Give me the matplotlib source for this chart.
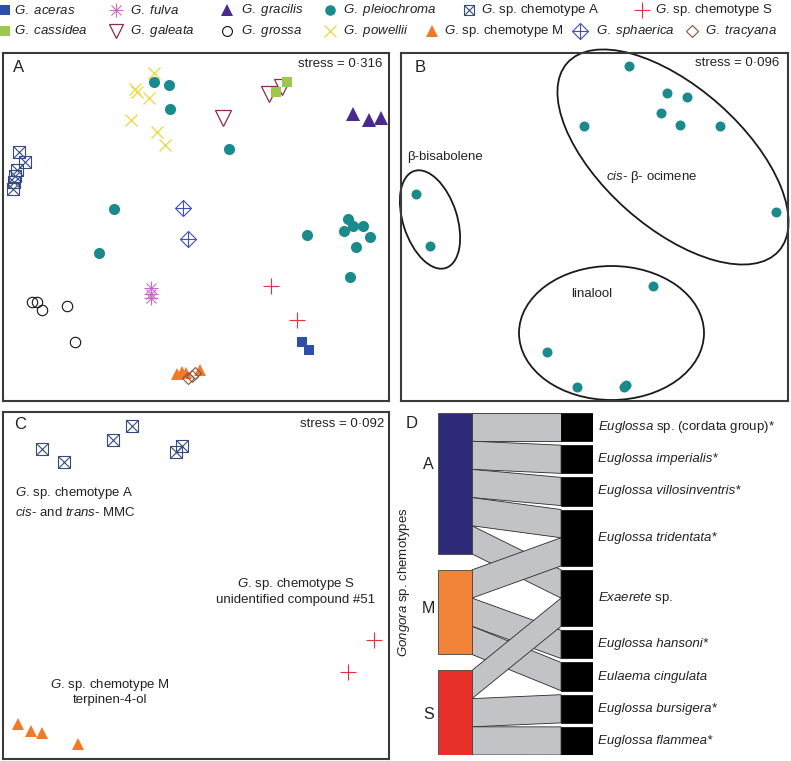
import matplotlib
matplotlib.use("Agg")
import matplotlib.pyplot as plt
from matplotlib.patches import Ellipse, Polygon, Rectangle

plt.rcParams['font.family'] = ['Liberation Sans', 'DejaVu Sans']
plt.rcParams['mathtext.fontset'] = 'custom'
plt.rcParams['mathtext.rm'] = 'Liberation Sans'
plt.rcParams['mathtext.it'] = 'Liberation Sans:italic'
plt.rcParams['font.size'] = 9.5
TXT = '#222222'

# ---------------- data: panel A (NMDS, all species) ----------------
a_aceras = ([1.06, 1.13], [-1.15, -1.23])
a_cassidea = ([0.80, 0.91], [1.35, 1.45])
a_fulva = ([-0.45, -0.45, -0.45], [-0.61, -0.67, -0.71])
a_galeata = ([0.27, 0.73, 0.86], [1.09, 1.33, 1.40])
a_gracilis = ([1.57, 1.73, 1.85], [1.13, 1.07, 1.09])
a_grossa = ([-1.64, -1.59, -1.54, -1.29, -1.21], [-0.75, -0.75, -0.83, -0.79, -1.15])
a_pleiochroma = ([-0.42, -0.27, -0.26, 0.33, -0.82, -0.97, 1.11, 1.52, 1.48, 1.57, 1.67, 1.74, 1.60, 1.54],
                 [1.45, 1.42, 1.18, 0.78, 0.18, -0.26, -0.08, 0.08, -0.04, 0.01, 0.01, -0.10, -0.20, -0.50])
a_powellii = ([-0.42, -0.61, -0.59, -0.47, -0.65, -0.39, -0.31], [1.54, 1.38, 1.35, 1.29, 1.07, 0.95, 0.82])
a_chemA = ([-1.77, -1.71, -1.79, -1.81, -1.82, -1.83], [0.75, 0.65, 0.57, 0.51, 0.45, 0.38])
a_chemM = ([-0.19, -0.14, -0.10, 0.04], [-1.47, -1.45, -1.46, -1.43])
a_chemS = ([0.75, 1.01], [-0.59, -0.93])
a_sphaerica = ([-0.13, -0.08], [0.19, -0.12])
a_tracyana = ([-0.08, -0.04, -0.01], [-1.51, -1.49, -1.46])

# ---------------- data: panel B (G. pleiochroma) ----------------
b_x = [0.34, 0.72, 0.92, 0.66, 0.85, 1.25, -0.11, 1.81, -1.79, -1.65, 0.58, -0.48, -0.18, 0.29, 0.31]
b_y = [1.61, 1.34, 1.30, 1.14, 1.02, 1.01, 1.01, 0.15, 0.33, -0.19, -0.59, -1.25, -1.60, -1.60, -1.58]

# ---------------- data: panel C (Gongora sp. chemotypes) ----------------
c_chemA = ([-1.54, -1.32, -0.83, -0.64, -0.20, -0.14], [1.37, 1.24, 1.46, 1.60, 1.34, 1.40])
c_chemS = ([1.78, 1.52], [-0.54, -0.86])
c_chemM = ([-1.78, -1.65, -1.54, -1.18], [-1.38, -1.45, -1.47, -1.58])

# ---------------- data: panel D (chemotype -> bee visits) ----------------
d_chemotypes = ['A', 'M', 'S']
d_chemo_colors = ['#2e2a78', '#f08338', '#e8302a']
d_bees = [r'$\mathit{Euglossa}$ sp. (cordata group)*',
          'Euglossa imperialis*',
          'Euglossa villosinventris*',
          'Euglossa tridentata*',
          r'$\mathit{Exaerete}$ sp.',
          'Euglossa hansoni*',
          'Eulaema cingulata',
          'Euglossa bursigera*',
          'Euglossa flammea*']
d_links = [('A', 0), ('A', 1), ('A', 2), ('A', 3), ('A', 4),
           ('M', 3), ('M', 5), ('M', 6),
           ('S', 4), ('S', 7), ('S', 8)]

# ---------------- marker styles ----------------
MARKERS = {
    'aceras': [dict(marker='s', ms=7.2, color='#2f4ea6', mew=0)],
    'cassidea': [dict(marker='s', ms=7.2, color='#9cc94c', mew=0)],
    'fulva': [dict(marker='+', ms=10, mew=0.8, color='#c56cc4'),
              dict(marker='x', ms=7.5, mew=0.8, color='#c56cc4')],
    'galeata': [dict(marker='v', ms=11, mfc='none', mec='#8c2a55', mew=0.9)],
    'gracilis': [dict(marker='^', ms=9.5, color='#4a2a8c', mew=0)],
    'grossa': [dict(marker='o', ms=7.5, mfc='none', mec='#111111', mew=0.8)],
    'pleiochroma': [dict(marker='o', ms=8, color='#1b8a8c', mew=0)],
    'powellii': [dict(marker='x', ms=9, mew=1.0, color='#ecdc4c')],
    'chemA': [dict(marker='s', ms=8, mfc='none', mec='#334a80', mew=0.8),
              dict(marker='x', ms=8, mew=0.8, color='#334a80')],
    'chemM': [dict(marker='^', ms=9, color='#f07a2a', mew=0)],
    'chemS': [dict(marker='+', ms=11.5, mew=0.8, color='#e8303a')],
    'sphaerica': [dict(marker='D', ms=8.2, mfc='none', mec='#4050b0', mew=0.8),
                  dict(marker='+', ms=11.6, mew=0.8, color='#4050b0')],
    'tracyana': [dict(marker='D', ms=6.6, mfc='none', mec='#8a5040', mew=0.8)],
}


def draw(ax, name, pts, scale=1.0):
    for layer in MARKERS[name]:
        kw = dict(layer)
        kw['ms'] = kw['ms'] * scale
        ax.plot(pts[0], pts[1], ls='none', clip_on=False, **kw)


def frame(ax):
    ax.set_xticks([])
    ax.set_yticks([])
    for s in ax.spines.values():
        s.set_linewidth(1.5)
        s.set_color('#3a3a3a')


W, H = 791, 761
fig = plt.figure(figsize=(W / 100, H / 100), dpi=100)

# ---------------- legend strip ----------------
leg = fig.add_axes([0, 0, 1, 1])
leg.set_xlim(0, W)
leg.set_ylim(H, 0)
leg.axis('off')
legend_items = [
    ('aceras', r'$\mathit{G.\ aceras}$', 5, 14, 10),
    ('fulva', r'$\mathit{G.\ fulva}$', 116, 130, 10),
    ('gracilis', r'$\mathit{G.\ gracilis}$', 227, 241, 10),
    ('pleiochroma', r'$\mathit{G.\ pleiochroma}$', 330, 343, 10),
    ('chemA', r'$\mathit{G}$. sp. chemotype A', 469, 481, 10),
    ('chemS', r'$\mathit{G}$. sp. chemotype S', 642, 655, 10),
    ('cassidea', r'$\mathit{G.\ cassidea}$', 5, 14, 31),
    ('galeata', r'$\mathit{G.\ galeata}$', 116, 130, 31),
    ('grossa', r'$\mathit{G.\ grossa}$', 227, 241, 31),
    ('powellii', r'$\mathit{G.\ powellii}$', 330, 343, 31),
    ('chemM', r'$\mathit{G}$. sp. chemotype M', 432, 444, 31),
    ('sphaerica', r'$\mathit{G.\ sphaerica}$', 580, 596, 31),
    ('tracyana', r'$\mathit{G.\ tracyana}$', 692, 705, 31),
]
for name, label, mx, tx, ty in legend_items:
    draw(leg, name, ([mx], [ty]), scale=0.95)
    leg.text(tx, ty, label, va='center', ha='left', color=TXT, fontsize=9.5)

# ---------------- panel A ----------------
axA = fig.add_axes([3 / W, (H - 401) / H, 386 / W, 348 / H])
axA.set_xlim(-1.93, 1.93)
axA.set_ylim(-1.74, 1.74)
frame(axA)
draw(axA, 'powellii', a_powellii)
draw(axA, 'pleiochroma', a_pleiochroma)
draw(axA, 'galeata', a_galeata)
draw(axA, 'cassidea', a_cassidea)
draw(axA, 'gracilis', a_gracilis)
draw(axA, 'chemA', a_chemA)
draw(axA, 'sphaerica', a_sphaerica)
draw(axA, 'fulva', a_fulva)
draw(axA, 'grossa', a_grossa)
draw(axA, 'chemS', a_chemS)
draw(axA, 'aceras', a_aceras)
draw(axA, 'chemM', a_chemM)
draw(axA, 'tracyana', a_tracyana)
axA.text(0.026, 0.957, 'A', transform=axA.transAxes, fontsize=12, va='center', color=TXT)
axA.text(0.982, 0.968, 'stress = 0\u00b7316', transform=axA.transAxes, ha='right', va='center', color=TXT)

# ---------------- panel B ----------------
axB = fig.add_axes([401 / W, (H - 401) / H, 387 / W, 348 / H])
axB.set_xlim(-1.935, 1.935)
axB.set_ylim(-1.74, 1.74)
frame(axB)
draw(axB, 'pleiochroma', (b_x, b_y), scale=0.9)
for (cx, cy), w, h, ang in [((0.785, 0.70), 2.83, 1.40, -41.6),
                            ((-1.645, 0.075), 1.02, 0.54, -72),
                            ((0.17, -1.06), 1.85, 1.34, 0)]:
    axB.add_patch(Ellipse((cx, cy), w, h, angle=ang, fill=False, ec='#1a1a1a', lw=1.3, clip_on=False))
axB.text(-1.875, 0.70, '\u03b2-bisabolene', ha='left', va='center', color=TXT)
axB.text(0.575, 0.50, r'$\mathit{cis}$- \u03b2- ocimene'.replace('\\u03b2', '\u03b2'), ha='center', va='center', color=TXT)
axB.text(-0.025, -0.67, 'linalool', ha='center', va='center', color=TXT)
axB.text(0.034, 0.957, 'B', transform=axB.transAxes, fontsize=12, va='center', color=TXT)
axB.text(0.977, 0.971, 'stress = 0\u00b7096', transform=axB.transAxes, ha='right', va='center', color=TXT)

# ---------------- panel C ----------------
axC = fig.add_axes([3 / W, (H - 759) / H, 386 / W, 347 / H])
axC.set_xlim(-1.93, 1.93)
axC.set_ylim(-1.735, 1.735)
frame(axC)
draw(axC, 'chemA', c_chemA)
draw(axC, 'chemS', c_chemS, scale=0.95)
draw(axC, 'chemM', c_chemM)
axC.text(-1.81, 0.925, r'$\mathit{G}$. sp. chemotype A', ha='left', va='center', color=TXT)
axC.text(-1.81, 0.735, r'$\mathit{cis}$- and $\mathit{trans}$- MMC', ha='left', va='center', color=TXT)
axC.text(1.00, 0.015, r'$\mathit{G}$. sp. chemotype S', ha='center', va='center', color=TXT)
axC.text(1.00, -0.145, 'unidentified compound #51', ha='center', va='center', color=TXT)
axC.text(-0.86, -0.995, r'$\mathit{G}$. sp. chemotype M', ha='center', va='center', color=TXT)
axC.text(-0.86, -1.145, 'terpinen-4-ol', ha='center', va='center', color=TXT)
axC.text(0.028, 0.965, 'C', transform=axC.transAxes, fontsize=12, va='center', color=TXT)
axC.text(0.987, 0.965, 'stress = 0\u00b7092', transform=axC.transAxes, ha='right', va='center', color=TXT)

# ---------------- panel D ----------------
left_gap, right_gap = 0.567, 0.142
x_flow0, x_flow1, right_w = 1.0, 3.62, 0.94
total = len(d_links) + left_gap * (len(d_chemotypes) - 1)

axD = fig.add_axes([438 / W, (H - 755) / H, 155 / W, 342 / H])
axD.set_xlim(0, x_flow1 + right_w)
axD.set_ylim(total, 0)
axD.axis('off')

chemo_size = {c: sum(1 for l in d_links if l[0] == c) for c in d_chemotypes}
bee_size = [sum(1 for l in d_links if l[1] == i) for i in range(len(d_bees))]
chemo_top, y = {}, 0.0
for c in d_chemotypes:
    chemo_top[c] = y
    y += chemo_size[c] + left_gap
bee_top, y = [], 0.0
for s in bee_size:
    bee_top.append(y)
    y += s + right_gap

lcur = dict(chemo_top)
rcur = list(bee_top)
for c, b in d_links:
    l0, r0 = lcur[c], rcur[b]
    axD.add_patch(Polygon([(x_flow0, l0), (x_flow1, r0), (x_flow1, r0 + 1), (x_flow0, l0 + 1)],
                          closed=True, fc='#c2c3c6', ec='#2a2a2a', lw=0.6))
    lcur[c] += 1
    rcur[b] += 1

for c, col in zip(d_chemotypes, d_chemo_colors):
    axD.add_patch(Rectangle((0, chemo_top[c]), 1, chemo_size[c], fc=col, ec='#444444', lw=0.6))
for i, label in enumerate(d_bees):
    axD.add_patch(Rectangle((x_flow1, bee_top[i]), right_w, bee_size[i], fc='black', ec='black', lw=0.5))
    style = 'normal' if '$' in label else 'italic'
    axD.text(4.71, bee_top[i] + bee_size[i] / 2, label, ha='left', va='center',
             style=style, color=TXT)

for c, ly in zip(d_chemotypes, [1.81, 6.95, 10.71]):
    axD.text(-0.29, ly, c, ha='center', va='center', fontsize=11.5, color=TXT)
axD.text(-0.79, 0.39, 'D', ha='center', va='center', fontsize=12, color=TXT)
axD.text(-1.0, 6.0, r'$\mathit{Gongora}$ sp. chemotypes', rotation=90, ha='center', va='center', color=TXT)

fig.savefig('out.png', dpi=100)
